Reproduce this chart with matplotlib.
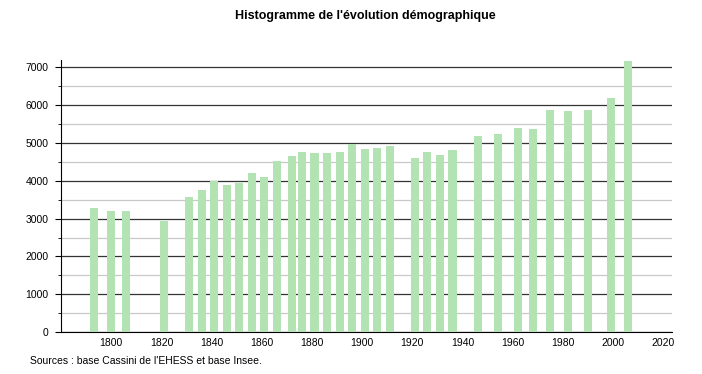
import matplotlib
matplotlib.use("Agg")
import matplotlib.pyplot as plt
import numpy as np

plt.rcParams["font.family"] = ["Liberation Sans", "DejaVu Sans"]

# census years and population
years = [1793, 1800, 1806, 1821, 1831, 1836, 1841, 1846, 1851, 1856,
         1861, 1866, 1872, 1876, 1881, 1886, 1891, 1896, 1901, 1906,
         1911, 1921, 1926, 1931, 1936, 1946, 1954, 1962, 1968, 1975,
         1982, 1990, 1999, 2006]
population = [3270, 3210, 3210, 2950, 3565, 3745, 3990, 3900, 3955, 4195,
              4115, 4520, 4645, 4750, 4725, 4725, 4750, 4965, 4830, 4860,
              4910, 4595, 4750, 4675, 4805, 5175, 5230, 5390, 5365, 5865,
              5840, 5865, 6185, 7165]
xticks = [1800, 1820, 1840, 1860, 1880, 1900, 1920, 1940, 1960, 1980, 2000, 2020]

fig = plt.figure(figsize=(7.02, 3.74), dpi=100)
ax = fig.add_axes([0.087, 0.112, 0.870, 0.728])

ax.bar(years, population, width=3.2, color="#b3e2b3", zorder=3)

ax.set_xlim(1780, 2023.4)
ax.set_ylim(0, 7200)
ax.set_yticks(np.arange(0, 7001, 1000))
ax.set_yticks(np.arange(500, 7000, 1000), minor=True)
ax.set_xticks(xticks)
ax.grid(axis="y", which="major", color="#333333", linewidth=0.9, zorder=1)
ax.grid(axis="y", which="minor", color="#c8c8c8", linewidth=0.9, zorder=1)

for s in ["top", "right"]:
    ax.spines[s].set_visible(False)
ax.spines["left"].set_color("black")
ax.spines["bottom"].set_color("black")
ax.tick_params(axis="y", which="major", length=4, labelsize=7.5, pad=5)
ax.tick_params(axis="y", which="minor", length=2)
ax.tick_params(axis="x", length=0, labelsize=7.5, pad=4)

fig.text(0.52, 0.957, "Histogramme de l'évolution démographique",
         ha="center", va="center", fontsize=9, fontweight="bold")
fig.text(0.043, 0.035, "Sources : base Cassini de l'EHESS et base Insee.",
         ha="left", va="center", fontsize=7.5)

fig.savefig("out.png", dpi=100)
